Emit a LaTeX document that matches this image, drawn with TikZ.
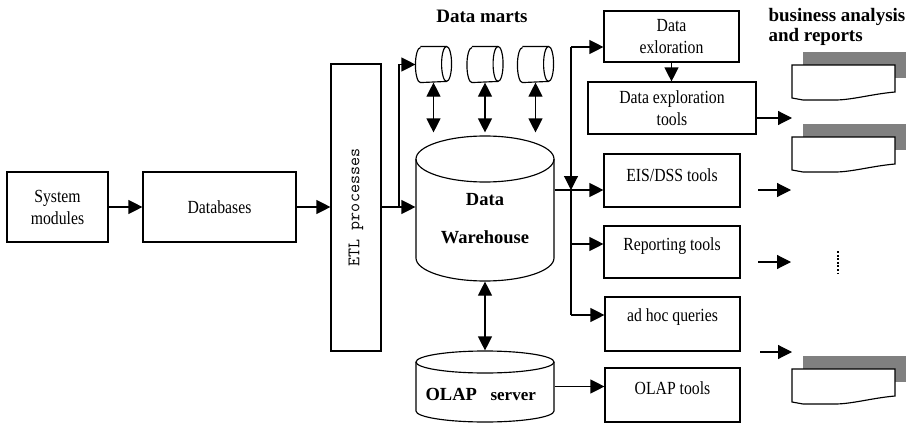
\documentclass[tikz,border=0pt]{standalone}
\usepackage{fontspec}
\setmainfont{Liberation Serif}
\newfontfamily\labelfont{Liberation Serif}[FakeStretch=0.85]
\usetikzlibrary{arrows.meta,calc}

\begin{document}
\begin{tikzpicture}[x=1pt, y=-1pt, line width=1.15pt,
  arr/.style={-{Triangle[length=14pt,width=14pt]}},
  darr/.style={{Triangle[length=14pt,width=14pt]}-{Triangle[length=14pt,width=14pt]}},
  box/.style={draw, rectangle, inner sep=0pt, align=center,
    font=\labelfont\fontsize{18.5}{22}\selectfont},
  boxtext/.style={font=\labelfont\fontsize{18.5}{22}\selectfont},
  hold/.style={rectangle, inner sep=0pt, draw=none},
  heading/.style={inner sep=0pt, align=left, font=\bfseries\fontsize{19}{20}\selectfont},
  cyltext/.style={inner sep=0pt, font=\bfseries\fontsize{18.5}{21}\selectfont},
  shadow/.style={fill=black!50, draw=none},
]
\useasboundingbox (0,0) rectangle (908,423);

% ---------- source side ----------
\node[box, minimum width=101pt, minimum height=70pt] (sys) at (57.5,207) {System\\modules};
\node[box, minimum width=153pt, minimum height=70pt] (db) at (219.5,207) {Databases};
\node[box, minimum width=50pt, minimum height=287pt,
  label={[rotate=90, font=\ttfamily\fontsize{17.5}{20}\selectfont]center:ETL processes}]
  (etl) at (356,207.5) {};

% ---------- data marts (horizontal cylinders) ----------
\node[heading, anchor=base] (dmt) at (482,23) {Data marts};
\node[hold, minimum width=35pt, minimum height=35pt] (m1) at (433.5,64.5) {};
\node[hold, minimum width=35pt, minimum height=35pt] (m2) at (485,64.5) {};
\node[hold, minimum width=35pt, minimum height=35pt] (m3) at (535.5,64.5) {};
\foreach \m in {m1,m2,m3}{
  \draw ($(\m.north west)+(5,0)$) -- ($(\m.north east)+(-5,0)$)
        arc[start angle=90, end angle=-90, x radius=5pt, y radius=17.5pt]
        -- ($(\m.south west)+(5,0)$)
        arc[start angle=270, end angle=90, x radius=5pt, y radius=17.5pt];
  \draw ($(\m.north east)+(-5,0)$)
        arc[start angle=90, end angle=270, x radius=5pt, y radius=17.5pt];
}

% ---------- data warehouse ----------
\node[hold, minimum width=138pt, minimum height=145pt] (wh) at (485,208.5) {};
\draw (485,159) ellipse [x radius=69pt, y radius=23pt];
\draw (416,159) -- (416,258)
      arc[start angle=180, end angle=360, x radius=69pt, y radius=23pt] -- (554,159);
\node[cyltext, anchor=base] (whd) at (485,205) {Data};
\node[cyltext, anchor=base] (whw) at (485,243) {Warehouse};

% ---------- OLAP server ----------
\node[hold, minimum width=138pt, minimum height=71pt] (olap) at (485,386.5) {};
\draw (485,362) ellipse [x radius=69pt, y radius=11pt];
\draw (416,362) -- (416,411)
      arc[start angle=180, end angle=360, x radius=69pt, y radius=11pt] -- (554,362);
\node[cyltext, anchor=base west] (olp) at (425,400) {OLAP};
\node[cyltext, anchor=base west, font=\bfseries\fontsize{17}{20}\selectfont] (srv) at (490,400) {server};

% ---------- tools ----------
\node[box, minimum width=135pt, minimum height=51pt] (dex) at (671.5,36.5) {Data\\exloration};
\node[box, minimum width=168pt, minimum height=52pt] (dext) at (672,108) {Data exploration\\tools};
\node[box, minimum width=136pt, minimum height=53pt,
  label={[yshift=5pt, boxtext]center:EIS/DSS tools}] (eis) at (672,180.5) {};
\node[box, minimum width=136pt, minimum height=52pt,
  label={[yshift=6pt, boxtext]center:Reporting tools}] (rep) at (672,252) {};
\node[box, minimum width=135pt, minimum height=54pt,
  label={[yshift=7pt, boxtext]center:ad hoc queries}] (adhoc) at (672.5,324) {};
\node[box, minimum width=135pt, minimum height=54pt,
  label={[yshift=7pt, boxtext]center:OLAP tools}] (olapt) at (672.5,395) {};

% ---------- reports ----------
\node[heading, anchor=north west] (bar) at (768,8) {business analysis\\and reports};
\foreach \t/\n in {65/d1,137/d2,369/d3}{
  \fill[shadow] (803,\t-13) rectangle (906,\t+13);
  \filldraw[fill=white] (792,\t) -- (895,\t) -- (895,\t+27)
     .. controls (872,\t+29) and (852,\t+35) .. (835,\t+35)
     -- (803,\t+35) -- (792,\t+33) -- cycle;
  \node[hold, minimum width=103pt, minimum height=35pt] (\n) at (843.5,\t+17.5) {};
}
\draw[line width=2.4pt, dash pattern=on 2pt off 1.6pt] (838,251) -- (838,273);

% ---------- connectors ----------
\draw[arr] (sys) -- (db);
\draw[arr] (db.east) -- (db.east -| etl.west);
\draw[arr] (db.east -| etl.east) -- (db.east -| wh.west);
\coordinate (split) at (399,207);
\draw[arr] (split) |- (m1.west);
\foreach \m in {m1,m2,m3}
  \draw[darr, shorten >=3pt] (\m.south) -- (\m.south |- wh.north);
\draw[darr] (wh.south) -- (olap.north);
\draw[arr] (olap.east) -- (olap.east -| olapt.west);

% distribution bus
\coordinate (bt) at (571,47);
\coordinate (bj) at (571,190);
\coordinate (br) at (571,244);
\coordinate (bb) at (571,315);
\draw (wh.east |- bj) -- (bj);
\draw[arr] (bt) -- (bt -| dex.west);
\draw[arr] (bt) -- (bj);
\draw (bj) -- (bb);
\draw[arr] (bj) -- (bj -| eis.west);
\draw[arr] (br) -- (br -| rep.west);
\draw[arr] (bb) -- (bb -| adhoc.west);
\draw[arr] (dex.south) -- (dex.south |- dext.north);

% outputs towards the reports
\coordinate (o1) at (792,118);
\coordinate (o2s) at (758,190);
\coordinate (o2) at (791,190);
\coordinate (o3s) at (758,262);
\coordinate (o3) at (791,262);
\coordinate (o4s) at (760,352);
\coordinate (o4) at (792,352);
\draw[arr] (dext.east |- o1) -- (o1);
\draw[arr] (o2s) -- (o2);
\draw[arr] (o3s) -- (o3);
\draw[arr] (o4s) -- (o4);
\end{tikzpicture}
\end{document}
